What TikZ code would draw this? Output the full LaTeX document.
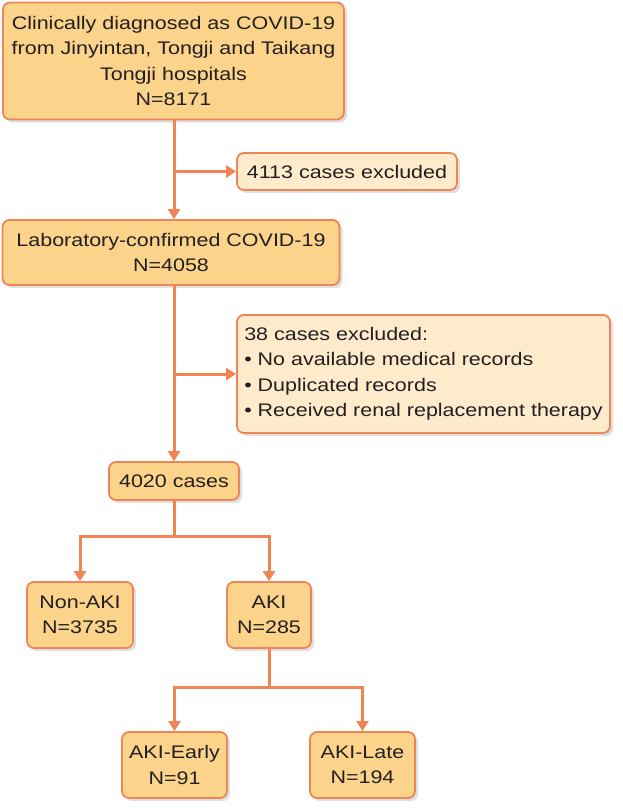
\documentclass[tikz,border=0pt]{standalone}
\usepackage{fontspec}
\setmainfont{Liberation Sans}[FakeStretch=1.18]
\usetikzlibrary{shadows,arrows.meta}
\definecolor{boxfill}{HTML}{FBD38A}
\definecolor{exfill}{HTML}{FDEBCC}
\definecolor{edge}{HTML}{EF8455}
\definecolor{txt}{HTML}{231F20}
\tikzset{
  base/.style={draw=edge, line width=1.8pt, rounded corners=7pt, inner sep=0pt,
    text=txt, font=\fontsize{18.2}{25.5}\selectfont, align=center,
    drop shadow={shadow xshift=3pt, shadow yshift=-3pt, opacity=0.35, fill=gray!70}},
  mainbox/.style={base, fill=boxfill},
  exbox/.style={base, fill=exfill},
  conn/.style={draw=edge, line width=3pt},
  arr/.style={conn, -{Triangle[length=10pt,width=12pt]}},
}
\begin{document}
\begin{tikzpicture}[x=1pt,y=-1pt]
\useasboundingbox (0,0) rectangle (622,809);
\node[mainbox, minimum width=341pt, minimum height=117pt] (b1) at (173.5,61)
  {Clinically diagnosed as COVID-19\\from Jinyintan, Tongji and Taikang\\Tongji hospitals\\N=8171};
\node[exbox, minimum width=220pt, minimum height=37pt] (ex1) at (347,171.5)
  {4113 cases excluded};
\node[mainbox, minimum width=337pt, minimum height=65pt] (b2) at (171,252.5)
  {Laboratory-confirmed COVID-19\\N=4058};
\node[exbox, minimum width=373pt, minimum height=118pt, align=left] (ex2) at (423.5,374)
  {38 cases excluded:\\\textbullet\ No available medical records\\\textbullet\ Duplicated records\\\textbullet\ Received renal replacement therapy};
\node[mainbox, minimum width=130pt, minimum height=38pt] (b3) at (174,481) {4020 cases};
\node[mainbox, minimum width=106pt, minimum height=66pt] (nonaki) at (80,615) {Non-AKI\\N=3735};
\node[mainbox, minimum width=84pt, minimum height=66pt] (aki) at (269,615) {AKI\\N=285};
\node[mainbox, minimum width=105pt, minimum height=66pt] (early) at (174.5,765) {AKI-Early\\N=91};
\node[mainbox, minimum width=105pt, minimum height=66pt] (late) at (362.5,765) {AKI-Late\\N=194};

\coordinate (s1) at (b3 |- ex1.west);
\coordinate (s2) at (b3 |- ex2.west);
\draw[arr] (b1.south -| b3) -- (b2.north -| b3);
\draw[arr] (s1) -- (ex1.west);
\draw[arr] (b2.south -| b3) -- (b3.north);
\draw[arr] (s2) -- (ex2.west);
\coordinate (j1) at (174,536);
\coordinate (j2) at (269,687);
\draw[conn] (b3.south) -- (j1);
\draw[arr] (j1) -| (nonaki.north);
\draw[arr] (j1) -| (aki.north);
\draw[conn] (aki.south) -- (j2);
\draw[arr] (j2) -| (early.north);
\draw[arr] (j2) -| (late.north);
\end{tikzpicture}
\end{document}
